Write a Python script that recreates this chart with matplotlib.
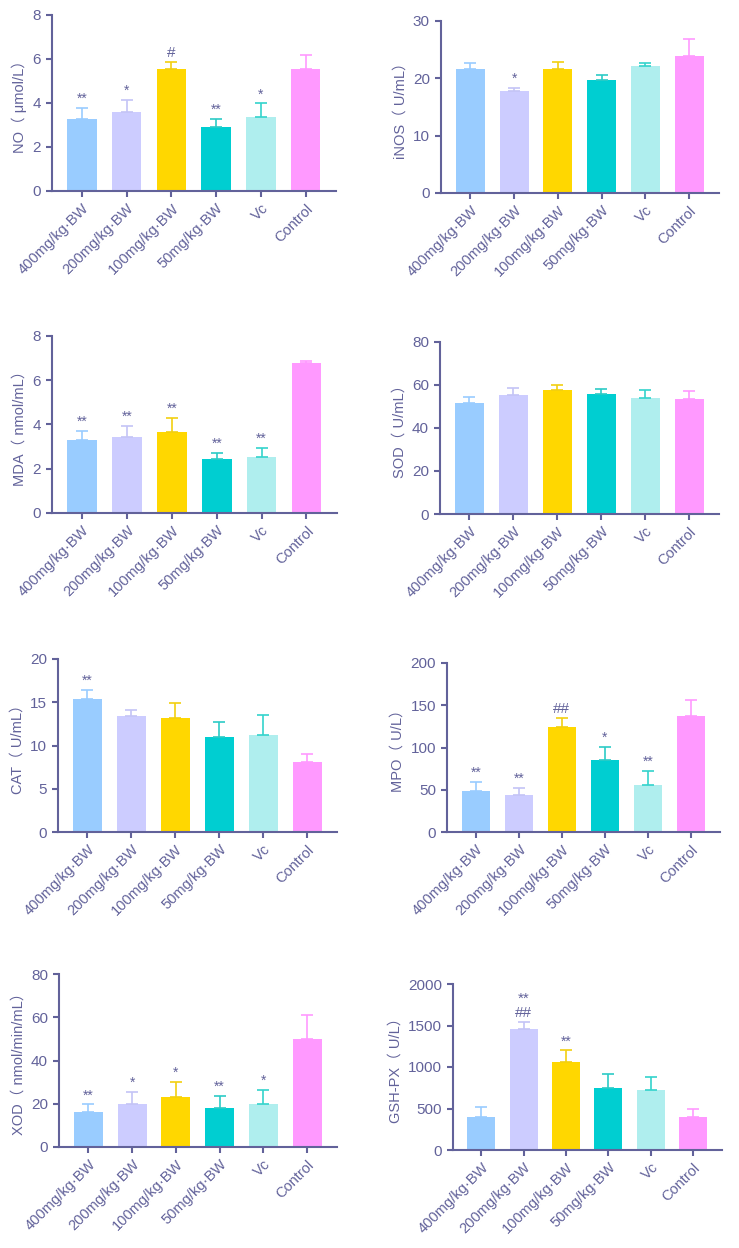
import numpy as np
import matplotlib
matplotlib.use("Agg")
import matplotlib.pyplot as plt

plt.rcParams['font.family'] = ['Liberation Sans', 'Noto Sans CJK SC', 'DejaVu Sans']

groups = ['400mg/kg·BW', '200mg/kg·BW', '100mg/kg·BW', '50mg/kg·BW', 'Vc', 'Control']
bar_colors = ['#99CCFF', '#CCCCFF', '#FFD700', '#00CED1', '#AFEEEE', '#FF99FF']
err_colors = ['#99CCFF', '#C4C4F6', '#F2CF10', '#2CCBC6', '#33D3CC', '#FF99FF']
ink = '#62629A'

# valeurs (moyenne, moyenne + écart)
no_mean = [3.28, 3.57, 5.54, 2.93, 3.36, 5.55]
no_top = [3.77, 4.13, 5.87, 3.27, 3.98, 6.20]
no_marks = ['**', '*', '#', '**', '*', '']

inos_mean = [21.7, 17.8, 21.7, 19.65, 22.1, 23.95]
inos_top = [22.7, 18.4, 22.85, 20.6, 22.7, 26.9]
inos_marks = ['', '*', '', '', '', '']

mda_mean = [3.28, 3.43, 3.65, 2.45, 2.52, 6.76]
mda_top = [3.71, 3.94, 4.30, 2.72, 2.96, 6.88]
mda_marks = ['**', '**', '**', '**', '**', '']

sod_mean = [51.5, 55.2, 57.8, 56.0, 54.1, 53.5]
sod_top = [54.6, 58.4, 60.2, 58.0, 57.5, 57.1]
sod_marks = ['', '', '', '', '', '']

cat_mean = [15.33, 13.4, 13.17, 10.97, 11.16, 8.07]
cat_top = [16.45, 14.05, 14.94, 12.66, 13.47, 9.07]
cat_marks = ['**', '', '', '', '', '']

mpo_mean = [49.1, 44.0, 124.4, 84.8, 56.2, 137.0]
mpo_top = [59.0, 52.3, 134.7, 100.6, 72.1, 156.8]
mpo_marks = ['**', '**', '##', '*', '**', '']

xod_mean = [16.3, 19.9, 23.3, 18.2, 20.0, 49.9]
xod_top = [19.7, 25.6, 29.9, 23.6, 26.2, 60.9]
xod_marks = ['**', '*', '*', '**', '*', '']

gsh_mean = [402, 1461, 1058, 744, 728, 398]
gsh_top = [523, 1545, 1199, 913, 881, 491]
gsh_marks = ['', '**\n##', '**', '', '', '']

W, H = 739, 1248
fig = plt.figure(figsize=(W / 100, H / 100), dpi=100)

# (données, étiquette, ymax, pas, rectangle en pixels: gauche, haut, droite, bas)
panels = [
    (no_mean, no_top, no_marks, 'NO（ μmol/L）', 8, 2, (52, 15, 336, 191)),
    (inos_mean, inos_top, inos_marks, 'iNOS（ U/mL）', 30, 10, (441, 21, 719, 193)),
    (mda_mean, mda_top, mda_marks, 'MDA（ nmol/mL）', 8, 2, (52, 336, 337, 513)),
    (sod_mean, sod_top, sod_marks, 'SOD（ U/mL）', 80, 20, (440, 342, 719, 514)),
    (cat_mean, cat_top, cat_marks, 'CAT（ U/mL）', 20, 5, (58, 659, 337, 832)),
    (mpo_mean, mpo_top, mpo_marks, 'MPO（ U/L）', 200, 50, (447, 663, 720, 832)),
    (xod_mean, xod_top, xod_marks, 'XOD（ nmol/min/mL）', 80, 20, (59, 974, 337, 1147)),
    (gsh_mean, gsh_top, gsh_marks, 'GSH-PX（ U/L）', 2000, 500, (453, 984, 722, 1150)),
]

x = np.arange(len(groups))
for mean, top, marks, label, ymax, step, (l, t, r, b) in panels:
    ax = fig.add_axes([l / W, 1 - b / H, (r - l) / W, (b - t) / H])
    ax.bar(x, mean, width=0.66, color=bar_colors, zorder=2)
    for i in range(len(x)):
        ax.errorbar(x[i], mean[i], yerr=[[0], [top[i] - mean[i]]], fmt='none',
                    ecolor=err_colors[i], elinewidth=1.2, capsize=4.5, capthick=1.2, zorder=3)
        if marks[i]:
            fs = 11 if '#' in marks[i] else 10
            ax.annotate(marks[i], (x[i], top[i]), xytext=(0, 1.5), textcoords='offset points',
                        ha='center', va='bottom', fontsize=fs, color=ink, linespacing=1.0)
    ax.set_xlim(-0.67, 5.68)
    ax.set_ylim(0, ymax)
    ax.set_yticks(np.arange(0, ymax + step / 2, step))
    ax.set_xticks(x)
    ax.set_xticklabels(groups, rotation=45, ha='right', rotation_mode='anchor')
    ax.set_ylabel(label, color=ink, fontsize=10.5, labelpad=4)
    for s in ['top', 'right']:
        ax.spines[s].set_visible(False)
    for s in ['left', 'bottom']:
        ax.spines[s].set_color(ink)
        ax.spines[s].set_linewidth(1.5)
    ax.tick_params(colors=ink, labelcolor=ink, width=1.5, length=4.5, labelsize=11)
    ax.tick_params(axis='x', labelsize=10.5, pad=3)

fig.savefig('out.png', dpi=100)
